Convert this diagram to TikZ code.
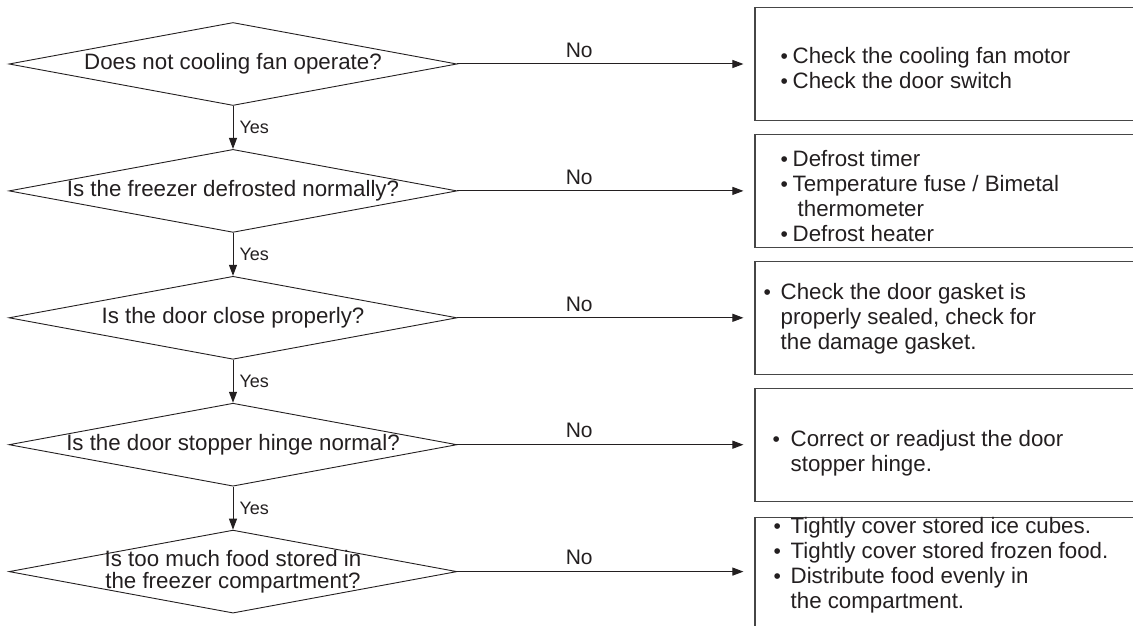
\documentclass[tikz,border=0pt]{standalone}
\usepackage{fontspec}
\setmainfont{Liberation Sans}
\usetikzlibrary{shapes.geometric,arrows.meta,positioning}
\definecolor{inkgray}{RGB}{35, 31, 32}
\definecolor{framegray}{RGB}{70, 70, 70}
\newcommand{\dotitem}[1][17pt]{\makebox[#1][l]{\fontsize{21}{21}\selectfont\textbullet}}
\begin{document}
\begin{tikzpicture}[x=1pt, y=-1pt,
    question/.style={draw=inkgray, line width=0.9pt, shape=diamond, aspect=5.4,
                     minimum width=448pt, minimum height=83pt, inner sep=0pt},
    remedy/.style={draw=framegray, line width=1.2pt, minimum width=390pt,
                   minimum height=113pt, inner sep=0pt},
    qtext/.style={font=\fontsize{22.3}{22}\selectfont, align=center, text=inkgray},
    rtext/.style={font=\fontsize{22.3}{25}\selectfont, align=left, anchor=west,
                  text=inkgray, inner sep=0pt},
    flow/.style={draw=inkgray, line width=1pt, -{Triangle[length=11pt, width=8pt]}},
    nolabel/.style={font=\fontsize{21}{21}\selectfont, text=inkgray, inner sep=0pt,
                    above=6pt, pos=0.41},
    yeslabel/.style={font=\fontsize{18}{18}\selectfont, text=inkgray, inner sep=0pt,
                     right=6pt, midway}]
    \useasboundingbox (0,0) rectangle (1133,626);
    \clip (0,0) rectangle (1133,626);

    % questions
    \node[question]                  (q1) at (233,64) {};
    \node[question, below=43pt of q1] (q2) {};
    \node[question, below=43pt of q2] (q3) {};
    \node[question, below=43pt of q3] (q4) {};
    \node[question, below=43pt of q4] (q5) {};
    \node[qtext] (l1) at (q1) {Does not cooling fan operate?};
    \node[qtext] (l2) at (q2) {Is the freezer defrosted normally?};
    \node[qtext] (l3) at (q3) {Is the door close properly?};
    \node[qtext] (l4) at (q4) {Is the door stopper hinge normal?};
    \node[qtext] (l5) at (q5) {Is too much food stored in\\the freezer compartment?};

    % remedies
    \node[remedy, right=297pt of q1]              (r1) {};
    \node[remedy, right=297pt of q2]              (r2) {};
    \node[remedy, right=297pt of q3]              (r3) {};
    \node[remedy, right=297pt of q4]              (r4) {};
    \node[remedy, right=297pt of q5, yshift=-3pt,
          minimum height=114pt]                   (r5) {};
    \node[rtext] (t1) at ([xshift=26pt, yshift=-4pt]r1.west)
        {\dotitem[12pt]Check the cooling fan motor\\
         \dotitem[12pt]Check the door switch};
    \node[rtext] (t2) at ([xshift=26pt, yshift=-5.5pt]r2.west)
        {\dotitem[12pt]Defrost timer\\
         \dotitem[12pt]Temperature fuse / Bimetal\\
         \hspace*{17pt}thermometer\\
         \dotitem[12pt]Defrost heater};
    \node[rtext] (t3) at ([xshift=9pt, yshift=-1pt]r3.west)
        {\dotitem Check the door gasket is\\
         \hspace*{17pt}properly sealed, check for\\
         \hspace*{17pt}the damage gasket.};
    \node[rtext] (t4) at ([xshift=18pt, yshift=-9pt]r4.west)
        {\dotitem[18pt]Correct or readjust the door\\
         \hspace*{18pt}stopper hinge.};
    \node[rtext] (t5) at ([xshift=19pt, yshift=9pt]r5.west)
        {\dotitem Tightly cover stored ice cubes.\\
         \dotitem Tightly cover stored frozen food.\\
         \dotitem Distribute food evenly in\\
         \hspace*{17pt}the compartment.};

    % connectors
    \foreach \a/\b in {q1/q2, q2/q3, q3/q4, q4/q5}
        \draw[flow] (\a) -- (\b) node[yeslabel] {Yes};
    \foreach \i in {1,...,5}
        \draw[flow, shorten >=11pt] (q\i.east) -- (q\i.east -| r\i.west) node[nolabel] {No};
\end{tikzpicture}
\end{document}
